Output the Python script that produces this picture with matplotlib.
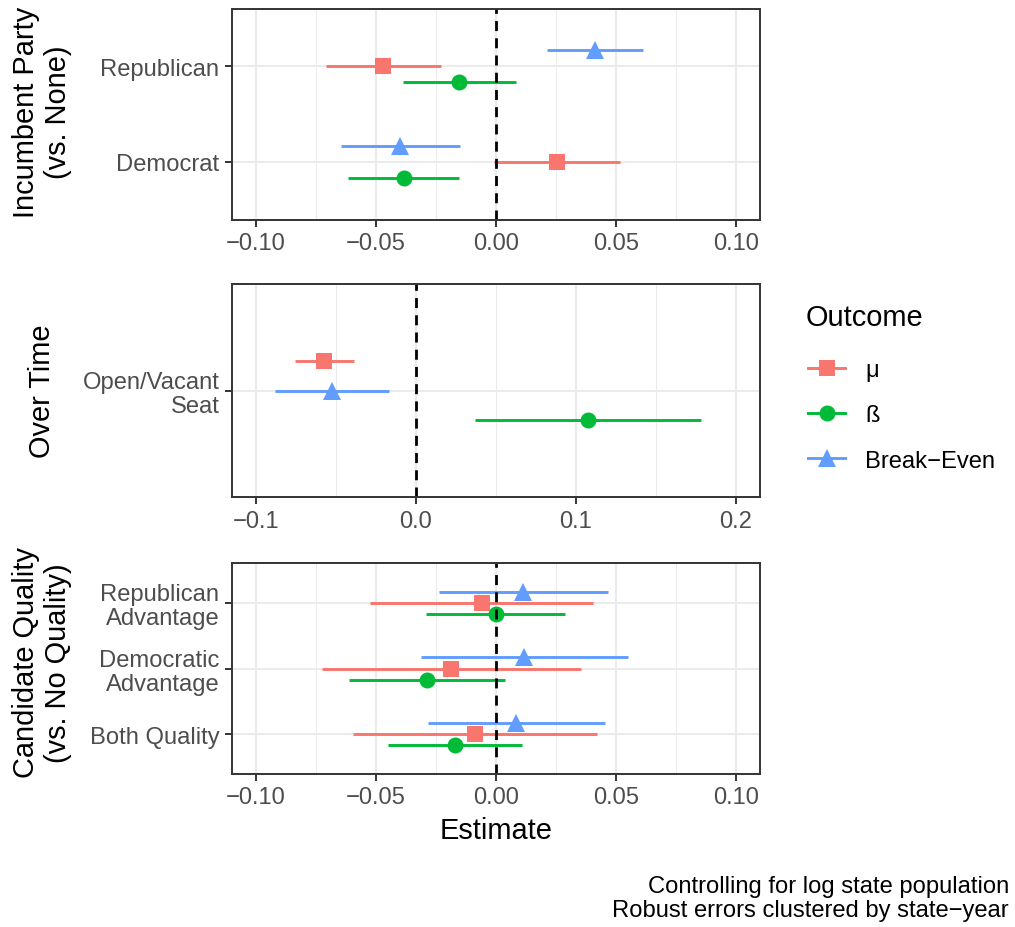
import matplotlib
matplotlib.use("Agg")
import matplotlib.pyplot as plt
from matplotlib.lines import Line2D

plt.rcParams['font.family'] = ['Liberation Sans', 'DejaVu Sans']

# ---------------- data ----------------
series = ["μ", "ß", "Break\u2212Even"]
series_colors = ["#F8766D", "#00BA38", "#619CFF"]
series_markers = ["s", "o", "^"]

# Panel 1: Incumbent Party (vs. None)
p1_categories = ["Republican", "Democrat"]
p1_mu_est = [-0.0470, 0.0256]
p1_mu_lo = [-0.0709, -0.0007]
p1_mu_hi = [-0.0229, 0.0517]
p1_beta_est = [-0.0153, -0.0384]
p1_beta_lo = [-0.0387, -0.0616]
p1_beta_hi = [0.0084, -0.0153]
p1_be_est = [0.0414, -0.0399]
p1_be_lo = [0.0213, -0.0646]
p1_be_hi = [0.0614, -0.0149]

# Panel 2: Over Time
p2_categories = ["Open/Vacant\nSeat"]
p2_mu_est = [-0.0572]
p2_mu_lo = [-0.0755]
p2_mu_hi = [-0.0385]
p2_beta_est = [0.1073]
p2_beta_lo = [0.0368]
p2_beta_hi = [0.1783]
p2_be_est = [-0.0527]
p2_be_lo = [-0.0880]
p2_be_hi = [-0.0170]

# Panel 3: Candidate Quality (vs. No Quality)
p3_categories = ["Republican\nAdvantage", "Democratic\nAdvantage", "Both Quality"]
p3_mu_est = [-0.0059, -0.0187, -0.0089]
p3_mu_lo = [-0.0523, -0.0726, -0.0597]
p3_mu_hi = [0.0404, 0.0353, 0.0420]
p3_beta_est = [0.0000, -0.0289, -0.0170]
p3_beta_lo = [-0.0291, -0.0614, -0.0450]
p3_beta_hi = [0.0289, 0.0037, 0.0110]
p3_be_est = [0.0113, 0.0117, 0.0083]
p3_be_lo = [-0.0239, -0.0314, -0.0283]
p3_be_hi = [0.0467, 0.0549, 0.0454]

p1_xticks = [-0.10, -0.05, 0.00, 0.05, 0.10]
p1_xticklabels = ["\u22120.10", "\u22120.05", "0.00", "0.05", "0.10"]
p2_xticks = [-0.1, 0.0, 0.1, 0.2]
p2_xticklabels = ["\u22120.1", "0.0", "0.1", "0.2"]

panel_titles = ["Incumbent Party\n(vs. None)", "Over Time",
                "Candidate Quality\n(vs. No Quality)"]
caption_lines = ["Controlling for log state population",
                 "Robust errors clustered by state\u2212year"]

# ---------------- style ----------------
W, H = 1015, 928
fig = plt.figure(figsize=(W / 100, H / 100), dpi=100)

TICK_FS = 17.1
TITLE_FS = 20.9
GRID_C = "#EBEBEB"
BORDER_C = "#333333"
TEXT_C = "#4D4D4D"
DODGE = 0.167
MS = {"s": 11.5, "o": 11.5, "^": 13.0}

def px_rect(left, top, right, bottom):
    return [left / W, 1 - bottom / H, (right - left) / W, (bottom - top) / H]

panels = [
    dict(rect=px_rect(232, 9.5, 760, 220.5), cats=p1_categories,
         data=[(p1_mu_est, p1_mu_lo, p1_mu_hi), (p1_beta_est, p1_beta_lo, p1_beta_hi),
               (p1_be_est, p1_be_lo, p1_be_hi)],
         offsets=[0.0, -DODGE, DODGE],
         xlim=(-0.11, 0.11), xticks=p1_xticks, xticklabels=p1_xticklabels,
         minor=[-0.075, -0.025, 0.025, 0.075]),
    dict(rect=px_rect(232, 285, 760, 498), cats=p2_categories,
         data=[(p2_mu_est, p2_mu_lo, p2_mu_hi), (p2_beta_est, p2_beta_lo, p2_beta_hi),
               (p2_be_est, p2_be_lo, p2_be_hi)],
         offsets=[DODGE, -DODGE, 0.0],
         xlim=(-0.115, 0.215), xticks=p2_xticks, xticklabels=p2_xticklabels,
         minor=[-0.05, 0.05, 0.15]),
    dict(rect=px_rect(232, 564, 760, 775), cats=p3_categories,
         data=[(p3_mu_est, p3_mu_lo, p3_mu_hi), (p3_beta_est, p3_beta_lo, p3_beta_hi),
               (p3_be_est, p3_be_lo, p3_be_hi)],
         offsets=[0.0, -DODGE, DODGE],
         xlim=(-0.11, 0.11), xticks=p1_xticks, xticklabels=p1_xticklabels,
         minor=[-0.075, -0.025, 0.025, 0.075]),
]

title_centers_px = [112, 391, 663]
axes = []
for i, p in enumerate(panels):
    ax = fig.add_axes(p["rect"])
    axes.append(ax)
    n = len(p["cats"])
    ypos = [n - k for k in range(n)]
    ax.set_xlim(*p["xlim"])
    ax.set_ylim(0.4, n + 0.6)

    # grid
    for xv in p["minor"]:
        ax.axvline(xv, color=GRID_C, lw=0.75, zorder=0)
    for xv in p["xticks"]:
        ax.axvline(xv, color=GRID_C, lw=1.5, zorder=0)
    for yv in ypos:
        ax.axhline(yv, color=GRID_C, lw=1.5, zorder=0)

    for s, (est, lo, hi) in enumerate(p["data"]):
        yy = [y + p["offsets"][s] for y in ypos]
        ax.hlines(yy, lo, hi, color=series_colors[s], lw=2.1, zorder=2 + s)
        ax.plot(est, yy, linestyle="none", marker=series_markers[s],
                ms=MS[series_markers[s]], color=series_colors[s],
                markeredgewidth=0, zorder=2 + s)

    ax.axvline(0, color="black", lw=2.0, linestyle=(0, (3.6, 2.6)), zorder=10)

    ax.set_xticks(p["xticks"])
    ax.set_xticklabels(p["xticklabels"])
    ax.set_yticks(ypos)
    ax.set_yticklabels(p["cats"], linespacing=1.11)
    ax.tick_params(axis="both", length=5, width=1.4, color=BORDER_C,
                   labelsize=TICK_FS, labelcolor=TEXT_C, pad=4)
    for sp in ax.spines.values():
        sp.set_color(BORDER_C)
        sp.set_linewidth(1.4)
        sp.set_zorder(11)

    fig.text(42 / W, 1 - title_centers_px[i] / H, panel_titles[i], rotation=90,
             ha="center", va="center", multialignment="center",
             fontsize=TITLE_FS, color="black", linespacing=1.16)

axes[2].set_xlabel("Estimate", fontsize=TITLE_FS, color="black", labelpad=5.5)

# legend
fig.text(806 / W, 1 - 325.7 / H, "Outcome", fontsize=TITLE_FS, color="black",
         ha="left", va="baseline")
handles = [Line2D([0], [0], color=c, lw=2.1, marker=m, ms=MS[m], markeredgewidth=0)
           for c, m in zip(series_colors, series_markers)]
fig.legend(handles, series, loc="upper left", bbox_to_anchor=(808 / W, 1 - 360 / H),
           frameon=False, fontsize=TICK_FS, handlelength=1.56, handletextpad=0.84,
           labelspacing=0.98, borderpad=0, borderaxespad=0, numpoints=1)

# caption
fig.text(1009 / W, 1 - 893 / H, caption_lines[0], fontsize=TICK_FS, ha="right",
         va="baseline", color="black")
fig.text(1009 / W, 1 - 917 / H, caption_lines[1], fontsize=TICK_FS, ha="right",
         va="baseline", color="black")

fig.savefig("out.png", dpi=100, facecolor="white")
